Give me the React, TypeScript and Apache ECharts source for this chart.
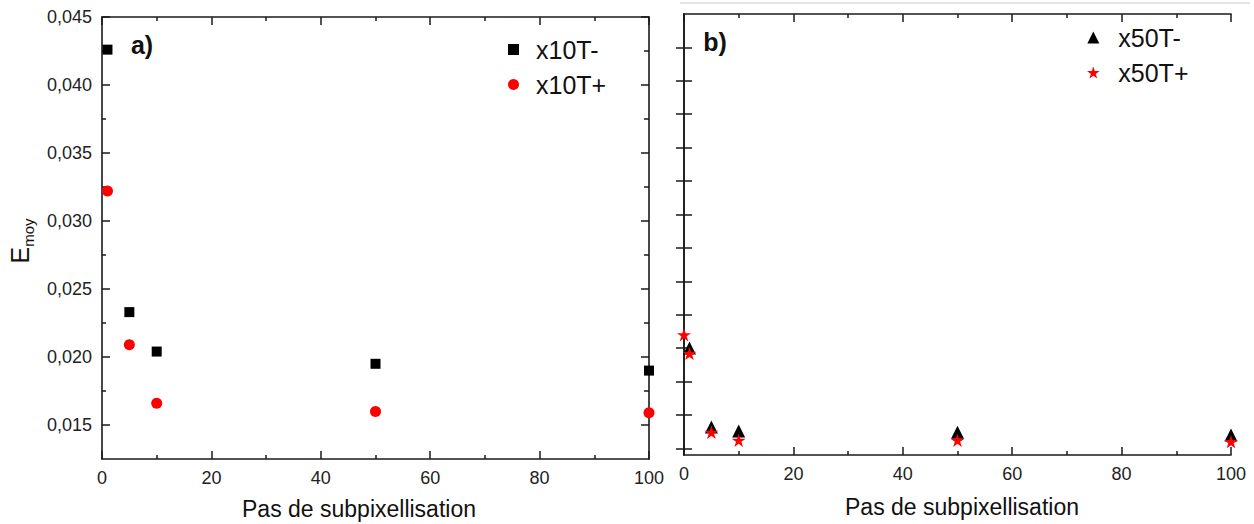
import React, { useEffect, useRef } from "react";
import * as echarts from "echarts";

// ---------- data ----------
const xA = [1, 5, 10, 50, 100];
const x10TMinus = [0.0426, 0.0233, 0.0204, 0.0195, 0.019];
const x10TPlus = [0.0322, 0.0209, 0.0166, 0.016, 0.0159];

const xB_minus = [1, 5, 10, 50, 100];
const x50TMinus = [0.0175, 0.0116, 0.0113, 0.0112, 0.011];
const xB_plus = [0, 1, 5, 10, 50, 100];
const x50TPlus = [0.0185, 0.0171, 0.0112, 0.0106, 0.0106, 0.0105];

const yMajorA = [0.015, 0.02, 0.025, 0.03, 0.035, 0.04, 0.045];
const yMinorA = [0.0175, 0.0225, 0.0275, 0.0325, 0.0375, 0.0425];
const yTicksB = [0.01, 0.0125, 0.015, 0.0175, 0.02, 0.0225, 0.025, 0.0275, 0.03, 0.0325, 0.035, 0.0375, 0.04];

const STAR = "path://M50 0 L61.17 34.63 L97.55 34.55 L68.07 55.87 L79.39 90.45 L50 69 L20.61 90.45 L31.93 55.87 L2.45 34.55 L38.83 34.63 Z";
const SQUARE = "path://M0 0 L10 0 L10 10 L0 10 Z";
const TRI = "path://M5 0 L10 10 L0 10 Z";
const FONT = "'Liberation Sans', Arial, sans-serif";
const AX = "#1a1a1a";

const pair = (xs: number[], ys: number[]) => xs.map((x, i) => [x, ys[i]]);

export default function App() {
  const ref = useRef<HTMLDivElement>(null);
  useEffect(() => {
    if (!ref.current) return;
    const chart = echarts.init(ref.current, null, { renderer: "svg" });
    const line = { show: true, lineStyle: { color: AX, width: 1.6 } };
    const xAxisBase = (grid: number, pos: "bottom" | "top", labels: boolean) => ({
      type: "value",
      gridIndex: grid,
      position: pos,
      min: 0,
      max: 100,
      interval: 20,
      axisLine: line,
      axisTick: { show: true, inside: true, length: 8, lineStyle: { color: AX, width: 1.5 } },
      minorTick: { show: true, splitNumber: 2, length: 4, lineStyle: { color: AX, width: 1.5 } },
      axisLabel: { show: labels, fontSize: 18, fontFamily: FONT, color: "#222", margin: 10 },
      splitLine: { show: false },
    });
    const yAxisBase = (
      grid: number,
      pos: "left" | "right",
      min: number,
      max: number,
      ticks: number[],
      len: number,
      labels: boolean,
      showLine: boolean
    ) => ({
      type: "value",
      gridIndex: grid,
      position: pos,
      offset: 0,
      min,
      max,
      axisLine: showLine ? line : { show: false },
      axisTick: { show: true, inside: true, length: len, customValues: ticks, lineStyle: { color: AX, width: 1.5 } },
      axisLabel: labels
        ? {
            show: true,
            customValues: ticks,
            fontSize: 18,
            fontFamily: FONT,
            color: "#222",
            margin: 10,
            formatter: (v: number) => v.toFixed(3).replace(".", ","),
          }
        : { show: false },
      splitLine: { show: false },
    });

    chart.setOption({
      animation: false,
      backgroundColor: "#ffffff",
      grid: [
        { left: 102, top: 17, width: 547, height: 442 },
        { left: 684, top: 14, width: 547, height: 441 },
      ],
      xAxis: [
        xAxisBase(0, "bottom", true),
        xAxisBase(0, "top", false),
        xAxisBase(1, "bottom", true),
        xAxisBase(1, "top", false),
      ],
      yAxis: [
        yAxisBase(0, "left", 0.0125, 0.045, yMajorA, 8, true, true),
        yAxisBase(0, "left", 0.0125, 0.045, yMinorA, 4, false, false),
        yAxisBase(0, "right", 0.0125, 0.045, yMajorA, 8, false, true),
        yAxisBase(0, "right", 0.0125, 0.045, yMinorA, 5, false, false),
        yAxisBase(1, "left", 0.0095, 0.0425, yTicksB, 8, false, true),
        yAxisBase(1, "right", 0.0095, 0.0425, yTicksB, 8, false, true),
      ],
      legend: [
        {
          data: [
            { name: "x10T-", icon: SQUARE },
            { name: "x10T+", icon: "circle" },
          ],
          orient: "vertical",
          left: 503,
          top: 32,
          itemWidth: 35,
          itemHeight: 11,
          itemGap: 10,
          symbolKeepAspect: true,
          textStyle: { fontSize: 25, lineHeight: 24, fontFamily: FONT, color: "#111" },
        },
        {
          data: [
            { name: "x50T-", icon: TRI },
            { name: "x50T+", icon: STAR },
          ],
          orient: "vertical",
          left: 1082,
          top: 20,
          itemWidth: 40,
          itemHeight: 12,
          itemGap: 10,
          symbolKeepAspect: true,
          textStyle: { fontSize: 25, lineHeight: 24, fontFamily: FONT, color: "#111" },
        },
      ],
      series: [
        {
          name: "x10T-",
          type: "scatter",
          xAxisIndex: 0,
          yAxisIndex: 0,
          symbol: "rect",
          symbolKeepAspect: true,
          symbolSize: 10,
          itemStyle: { color: "#000000", opacity: 1 },
          data: pair(xA, x10TMinus),
        },
        {
          name: "x10T+",
          type: "scatter",
          xAxisIndex: 0,
          yAxisIndex: 0,
          symbol: "circle",
          symbolKeepAspect: true,
          symbolSize: 11,
          itemStyle: { color: "#ff0000", opacity: 1 },
          data: pair(xA, x10TPlus),
        },
        {
          name: "x50T-",
          type: "scatter",
          xAxisIndex: 2,
          yAxisIndex: 4,
          symbol: "triangle",
          symbolKeepAspect: true,
          symbolSize: 13,
          itemStyle: { color: "#000000", opacity: 1 },
          data: pair(xB_minus, x50TMinus),
        },
        {
          name: "x50T+",
          type: "scatter",
          xAxisIndex: 2,
          yAxisIndex: 4,
          symbol: STAR,
          symbolKeepAspect: true,
          symbolSize: 14,
          itemStyle: { color: "#ff0000", opacity: 1 },
          data: pair(xB_plus, x50TPlus),
        },
      ],
      graphic: [
        {
          type: "line",
          shape: { x1: 680, y1: 3, x2: 1250, y2: 3 },
          style: { stroke: "#c8c8c8", lineWidth: 1 },
        },
        {
          type: "text",
          x: 142,
          y: 45,
          style: { text: "a)", fontSize: 25, fontWeight: "bold", fontFamily: FONT, fill: "#111", align: "center", verticalAlign: "middle" },
        },
        {
          type: "text",
          x: 715,
          y: 42,
          style: { text: "b)", fontSize: 25, fontWeight: "bold", fontFamily: FONT, fill: "#111", align: "center", verticalAlign: "middle" },
        },
        {
          type: "text",
          x: 359,
          y: 509,
          style: { text: "Pas de subpixellisation", fontSize: 23, fontFamily: FONT, fill: "#111", align: "center", verticalAlign: "middle" },
        },
        {
          type: "text",
          x: 962,
          y: 507,
          style: { text: "Pas de subpixellisation", fontSize: 23, fontFamily: FONT, fill: "#111", align: "center", verticalAlign: "middle" },
        },
        {
          type: "text",
          x: 20,
          y: 241,
          rotation: Math.PI / 2,
          style: {
            text: "{a|E}{b|moy}",
            align: "center",
            verticalAlign: "middle",
            fill: "#111",
            rich: {
              a: { fontSize: 25, lineHeight: 32, fontFamily: FONT, fill: "#111" },
              b: { fontSize: 15, fontFamily: FONT, fill: "#111", verticalAlign: "bottom" },
            },
          },
        },
      ],
    });
    return () => chart.dispose();
  }, []);
  return (
    <div
      ref={ref}
      style={{ position: "fixed", left: 0, top: 0, width: 1254, height: 524, background: "#fff" }}
    />
  );
}
